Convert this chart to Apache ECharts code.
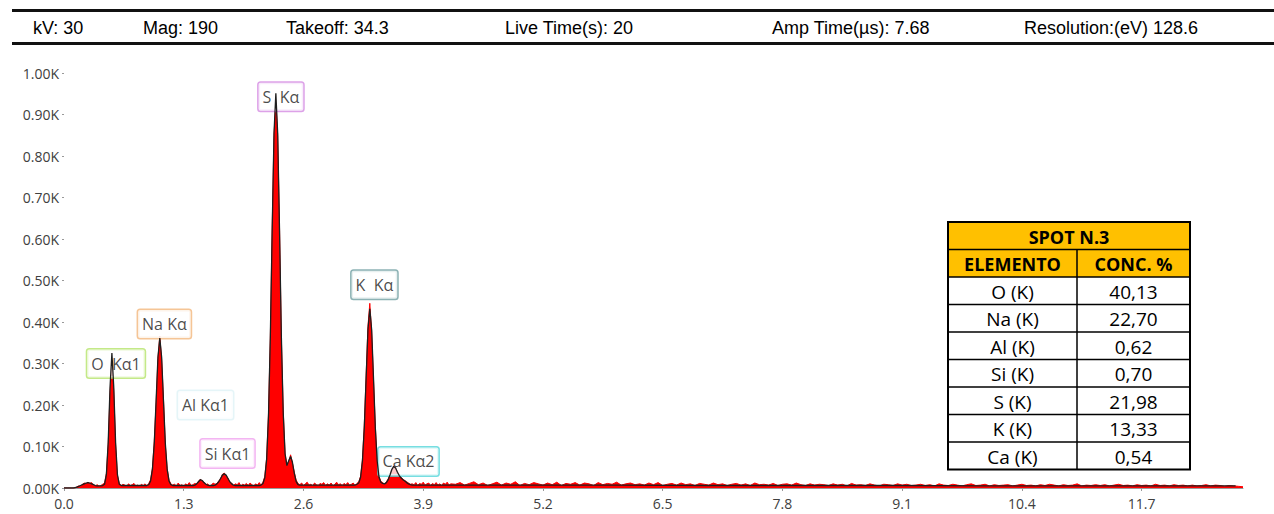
<!DOCTYPE html>
<html><head><meta charset="utf-8">
<script src="https://cdn.jsdelivr.net/npm/echarts@6/dist/echarts.min.js"></script>
<style>html,body{margin:0;padding:0;background:#fff}#c{width:1274px;height:514px}</style>
</head><body><div id="c"></div>
<script>
// ---------- DATA ----------
const headerItems = ['kV: 30', 'Mag: 190', 'Takeoff: 34.3', 'Live Time(s): 20', 'Amp Time(µs): 7.68', 'Resolution:(eV) 128.6'];
const xTickValues = [0, 1.3, 2.6, 3.9, 5.2, 6.5, 7.8, 9.1, 10.4, 11.7];

// channel calibration (keV)
const LOW_STEP = 0.02;    // channels 0.00 .. 4.20
const HIGH_START = 4.25;  // channels 4.25 .. 12.80
const HIGH_STEP = 0.05;

// measured counts (red), 0.00-4.20 keV, 10 channels per row
const countsLow = [
  0,0,0,0,0,0,0,3,5,4,
  9,12,10,14,11,13,7,5,8,4,
  6,9,12,35,105,230,292,235,104,30,
  12,5,9,7,4,10,6,8,11,5,
  7,4,9,6,10,5,11,20,48,112,
  205,312,366,310,214,104,47,19,10,7,
  9,5,12,6,8,4,10,7,13,6,
  8,11,9,16,21,17,14,8,10,5,
  7,12,9,11,17,22,33,36,30,24,
  14,12,6,10,8,13,5,9,7,11,
  6,12,8,5,10,7,13,6,14,28,
  72,178,360,624,850,935,848,625,358,186,
  80,58,63,80,60,38,19,11,8,12,
  6,10,14,7,9,5,12,8,6,11,
  9,13,6,10,7,12,5,9,14,8,
  10,6,11,8,13,7,9,12,6,11,
  15,28,68,150,270,390,445,378,262,148,
  62,28,16,13,9,15,22,34,47,55,
  50,40,31,26,21,18,15,12,9,10,
  8,13,6,11,9,14,7,10,12,6,
  11,8,13,7,10,6,12,9,14,7,
  10
];
// measured counts (red), 4.25-12.80 keV, 20 channels per row
const countsHigh = [
  9,13,7,11,15,8,12,6,10,14,7,12,9,15,6,11,8,13,10,7,
  12,8,14,6,11,9,13,7,12,10,6,13,8,11,9,14,7,10,12,8,
  10,7,12,8,13,6,9,11,7,12,8,10,6,11,9,7,12,8,10,6,
  9,11,7,10,6,12,8,9,7,11,6,9,10,7,12,8,6,10,7,9,
  8,6,10,7,9,5,11,7,8,6,10,7,5,9,8,6,10,7,9,6,
  7,9,6,8,5,10,7,6,9,7,5,8,10,6,7,9,5,8,6,7,
  8,5,7,9,6,7,5,8,6,9,7,5,8,6,7,10,5,7,6,8,
  6,8,5,7,9,6,7,5,8,6,7,5,9,6,7,5,8,6,7,5,
  7,5,6,8,5,7,6,4,6,5,4,3
];
// fitted spectrum (black), 0.00-4.20 keV, 10 channels per row
const fitLow = [
  0,0,0,0,0,0,1,2,4,6,
  8,10,12,13,12,10,8,6,5,5,
  5,6,9,32,110,244,325,244,110,32,
  9,6,6,6,6,6,6,6,6,6,
  6,6,6,6,6,6,8,17,45,108,
  210,315,361,315,210,108,45,17,8,6,
  6,6,6,6,6,6,6,6,6,6,
  6,7,10,15,20,18,13,9,7,6,
  6,6,7,10,15,23,31,34,31,23,
  15,10,7,6,6,6,6,6,6,6,
  6,6,6,6,6,6,6,7,11,25,
  69,173,363,619,854,951,854,619,363,181,
  83,54,66,76,62,36,16,8,7,7,
  7,7,7,7,7,7,7,7,7,7,
  7,7,7,7,7,7,7,7,7,7,
  7,7,7,7,7,7,7,7,7,9,
  12,26,65,145,265,382,432,382,265,145,
  65,26,14,11,10,13,20,32,45,52,
  48,38,30,24,20,17,13,10,8,7,
  7,7,7,7,7,7,7,7,7,7,
  7,7,7,7,7,7,7,7,7,7,
  7
];
const fitHighEnergy = [5, 6, 7, 8, 9, 10, 11, 12, 12.72];
const fitHigh = [7, 7, 6, 6, 6, 5, 5, 5, 5];

const peakNames = ['O  Kα1', 'Na Kα', 'Al Kα1', 'Si Kα1', 'S  Kα', 'K  Kα', 'Ca Kα2'];

const tableTitle = 'SPOT N.3';
const tableHeaders = ['ELEMENTO', 'CONC. %'];
const elements = ['O (K)', 'Na (K)', 'Al (K)', 'Si (K)', 'S (K)', 'K (K)', 'Ca (K)'];
const concentrations = ['40,13', '22,70', '0,62', '0,70', '21,98', '13,33', '0,54'];

// ---------- LAYOUT / STYLE ----------
const headerX = [33, 143, 286, 505, 772, 1024];
const peakLabelAnchor = [[0.564, 300], [1.09, 395], [1.536, 200], [1.775, 83], [2.355, 943], [3.37, 490], [3.74, 64]];
const peakBorder = ['#b5e46a', '#f2b77c', '#dff2f6', '#f0a3ef', '#d58be2', '#6f9fa1', '#55d6d9'];

const r2 = v => Math.round(v * 100) / 100;
const redData = countsLow.map((v, i) => [r2(i * LOW_STEP), v])
  .concat(countsHigh.map((v, i) => [r2(HIGH_START + i * HIGH_STEP), v]));
const fitData = fitLow.map((v, i) => [r2(i * LOW_STEP), v])
  .concat(fitHigh.map((v, i) => [fitHighEnergy[i], v]));

const labelData = peakNames.map((n, i) => ({
  name: n,
  value: peakLabelAnchor[i],
  label: { borderColor: peakBorder[i] }
}));

// header graphics
const graphics = [];
graphics.push({ type: 'line', shape: { x1: 12, y1: 10.5, x2: 1274, y2: 10.5 }, style: { stroke: '#111', lineWidth: 3 } });
graphics.push({ type: 'line', shape: { x1: 12, y1: 43.5, x2: 1274, y2: 43.5 }, style: { stroke: '#111', lineWidth: 3 } });
headerItems.forEach((t, i) => graphics.push({
  type: 'text', x: headerX[i], y: 28,
  style: { text: t, fontFamily: '"Liberation Sans", Arial, sans-serif', fontSize: 18, fill: '#000', verticalAlign: 'middle', align: 'left' }
}));

// table graphics
const TX = 948, TY = 222, C1 = 129, C2 = 113, RH = 27.5;
const TW = C1 + C2, NR = 2 + elements.length;
const tFont = '"Open Sans", "Noto Sans", sans-serif';
graphics.push({ type: 'rect', shape: { x: TX, y: TY, width: TW, height: RH * 2 }, style: { fill: '#FFC000' } });
graphics.push({ type: 'rect', shape: { x: TX, y: TY + RH * 2, width: TW, height: RH * elements.length }, style: { fill: '#fff' } });
for (let k = 1; k < NR; k++) {
  graphics.push({ type: 'line', shape: { x1: TX, y1: TY + k * RH, x2: TX + TW, y2: TY + k * RH }, style: { stroke: '#000', lineWidth: 1.5 } });
}
graphics.push({ type: 'line', shape: { x1: TX + C1, y1: TY + RH, x2: TX + C1, y2: TY + NR * RH }, style: { stroke: '#000', lineWidth: 1.5 } });
graphics.push({ type: 'rect', shape: { x: TX, y: TY, width: TW, height: NR * RH }, style: { fill: 'none', stroke: '#000', lineWidth: 2 } });
graphics.push({ type: 'text', x: TX + TW / 2, y: TY + RH / 2 + 1, style: { text: tableTitle, fontFamily: tFont, fontWeight: 'bold', fontSize: 18, fill: '#000', align: 'center', verticalAlign: 'middle' } });
tableHeaders.forEach((h, j) => graphics.push({
  type: 'text', x: TX + (j === 0 ? C1 / 2 : C1 + C2 / 2), y: TY + RH * 1.5 + 1,
  style: { text: h, fontFamily: tFont, fontWeight: 'bold', fontSize: 18, fill: '#000', align: 'center', verticalAlign: 'middle' }
}));
elements.forEach((e, r) => {
  const cy = TY + RH * (2.5 + r) + 1;
  graphics.push({ type: 'text', x: TX + C1 / 2, y: cy, style: { text: e, fontFamily: tFont, fontSize: 19, fill: '#000', align: 'center', verticalAlign: 'middle' } });
  graphics.push({ type: 'text', x: TX + C1 + C2 / 2, y: cy, style: { text: concentrations[r], fontFamily: tFont, fontSize: 19, fill: '#000', align: 'center', verticalAlign: 'middle' } });
});

const chart = echarts.init(document.getElementById('c'), null, { renderer: 'svg' });
chart.setOption({
  animation: false,
  backgroundColor: '#fff',
  grid: { left: 64, right: 31, top: 73, bottom: 26 },
  xAxis: {
    type: 'value', min: 0, max: 12.8, interval: 1.3,
    axisLine: { show: true, lineStyle: { color: '#9a9a9a', width: 1 } },
    axisTick: { show: true, length: 3, lineStyle: { color: '#999' }, customValues: xTickValues },
    axisLabel: { customValues: xTickValues, formatter: v => v.toFixed(1), color: '#404040', fontSize: 14, fontFamily: '"Open Sans", sans-serif', margin: 8 },
    splitLine: { show: false }
  },
  yAxis: {
    type: 'value', min: 0, max: 1000, interval: 100,
    axisLine: { show: false },
    axisTick: { show: true, length: 2, lineStyle: { color: '#999' } },
    axisLabel: { formatter: v => (v / 1000).toFixed(2) + 'K', color: '#404040', fontSize: 14, fontFamily: '"Open Sans", sans-serif', margin: 5 },
    splitLine: { show: false }
  },
  series: [
    {
      type: 'line', name: 'counts', data: redData, z: 1, symbol: 'none',
      lineStyle: { color: '#ff0000', width: 1 },
      areaStyle: { color: '#ff0000', opacity: 1 }
    },
    {
      type: 'scatter', name: 'peaks', data: labelData, z: 3, symbolSize: 1,
      itemStyle: { color: 'rgba(0,0,0,0)' },
      label: {
        show: true, position: 'inside', formatter: p => p.name,
        backgroundColor: '#fff', borderWidth: 1.5, borderRadius: 2,
        padding: [5, 4, 4, 4], lineHeight: 19,
        fontFamily: '"Open Sans", sans-serif', fontSize: 16, color: '#1a1a1a'
      }
    },
    {
      type: 'line', name: 'fit', data: fitData, z: 4, symbol: 'none',
      lineStyle: { color: '#1e1e1e', width: 1.3 }
    }
  ],
  graphic: graphics
});
</script>
</body></html>
